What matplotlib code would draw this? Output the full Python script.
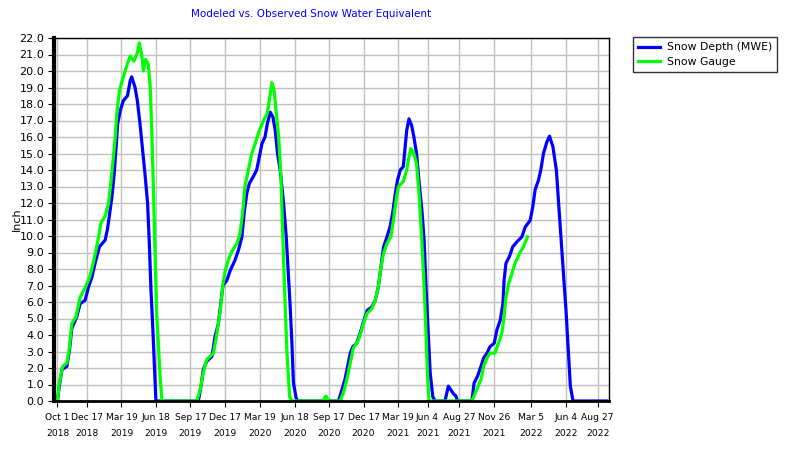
import pandas as pd
import matplotlib.pyplot as plt
from matplotlib import font_manager

# days since Oct 1 2018 and SWE (inch)
base = pd.Timestamp('2018-10-01')

depth_days = [0, 5, 12, 25, 32, 38, 51, 60, 73, 82, 91, 100, 111, 126, 132, 137, 144, 150, 155, 159,
              166, 174, 185, 192, 196, 205, 211, 218, 225, 231, 238, 243, 247, 252, 256, 260,
              372, 379, 385, 394, 408, 416, 425, 431, 437, 447, 456, 469, 478, 487, 493, 500, 507,
              517, 526, 533, 540, 548, 554, 562, 569, 575, 581, 588, 597, 604, 610, 614, 619, 623,
              630, 634,
              742, 751, 759, 766, 773, 780, 790, 799, 808, 818, 830, 839, 847, 854, 861, 870, 878,
              885, 892, 898, 905, 913, 918, 922, 928, 935, 941, 948, 955, 962, 968, 973, 979, 984,
              991, 997,
              1023, 1032, 1045, 1052, 1056,
              1094, 1100, 1109, 1118, 1125, 1134, 1142, 1153, 1160, 1169, 1176, 1179, 1184, 1193,
              1202, 1213, 1226, 1235, 1248, 1255, 1261, 1270, 1276, 1283, 1292, 1299, 1308, 1317,
              1323, 1329, 1336, 1343, 1349, 1354, 1361, 1450]
depth_swe = [0.0, 0.9, 1.9, 2.1, 3.1, 4.4, 5.1, 5.9, 6.1, 6.9, 7.5, 8.4, 9.35, 9.75, 10.4, 11.2, 12.4,
             13.8, 15.4, 16.8, 17.6, 18.2, 18.5, 19.4, 19.65, 19.0, 18.2, 16.8, 15.2, 13.8, 12.0, 9.35,
             6.7, 4.3, 2.1, 0.0,
             0.0, 0.9, 1.9, 2.4, 2.7, 3.9, 4.7, 5.9, 7.0, 7.3, 7.9, 8.55, 9.15, 9.95, 11.4, 12.6, 13.2,
             13.6, 14.0, 14.8, 15.6, 16.0, 16.8, 17.5, 17.2, 16.4, 15.0, 14.0, 12.0, 9.95, 7.5, 5.9,
             3.5, 1.1, 0.2, 0.0,
             0.0, 0.7, 1.3, 2.1, 2.9, 3.3, 3.5, 4.1, 4.8, 5.5, 5.7, 6.1, 6.9, 8.1, 9.35, 9.95, 10.55,
             11.4, 12.6, 13.4, 14.0, 14.2, 15.4, 16.4, 17.1, 16.7, 16.0, 15.0, 13.2, 11.6, 9.75, 6.9,
             4.1, 1.7, 0.25, 0.0,
             0.0, 0.9, 0.45, 0.3, 0.0,
             0.0, 1.1, 1.5, 2.1, 2.6, 2.9, 3.3, 3.5, 4.3, 4.9, 5.9, 7.3, 8.35, 8.75, 9.35, 9.65, 9.95,
             10.55, 10.95, 11.8, 12.8, 13.4, 14.0, 15.0, 15.7, 16.05, 15.4, 14.0, 12.0, 9.95, 7.75,
             5.3, 2.9, 0.9, 0.0, 0.0]

gauge_days = [0, 5, 14, 25, 32, 38, 49, 60, 73, 85, 95, 106, 115, 126, 135, 141, 146, 152, 157, 164,
              174, 185, 192, 202, 211, 216, 223, 227, 233, 240, 245, 249, 254, 258, 262, 267, 271, 276,
              368, 377, 385, 394, 412, 421, 430, 437, 443, 451, 460, 474, 482, 489, 495, 504, 513,
              522, 533, 544, 554, 560, 566, 572, 577, 584, 590, 595, 601, 606, 613, 619,
              700, 709, 716,
              746, 755, 764, 773, 781, 795, 808, 817, 830, 839, 847, 854, 861, 870, 880, 887, 894,
              900, 913, 922, 928, 933, 941, 948, 955, 962, 968, 973, 977, 981,
              1094, 1107, 1118, 1125, 1134, 1142, 1155, 1164, 1173, 1179, 1184, 1191, 1200, 1208,
              1220, 1230, 1241]
gauge_swe = [0.0, 1.1, 2.1, 2.3, 3.3, 4.7, 5.1, 6.3, 6.85, 7.5, 8.4, 9.6, 10.8, 11.2, 12.0, 13.2, 14.4,
             15.8, 17.45, 18.85, 19.65, 20.45, 20.9, 20.6, 21.1, 21.7, 20.9, 20.0, 20.7, 20.4, 19.05,
             16.4, 12.4, 8.75, 5.3, 3.3, 1.5, 0.0,
             0.0, 0.7, 1.7, 2.5, 2.9, 4.1, 5.5, 7.1, 7.9, 8.55, 9.05, 9.55, 10.15, 11.4, 13.0, 14.0,
             15.0, 15.6, 16.4, 17.0, 17.45, 18.3, 19.3, 18.85, 17.6, 16.0, 13.6, 9.95, 5.9, 2.9, 0.25,
             0.0,
             0.0, 0.3, 0.0,
             0.0, 0.5, 1.3, 2.3, 3.2, 3.7, 4.7, 5.3, 5.6, 6.1, 6.9, 8.1, 8.95, 9.55, 9.95, 10.95, 12.2,
             13.0, 13.3, 14.0, 14.8, 15.3, 15.0, 14.4, 12.4, 9.75, 6.9, 4.1, 1.5, 0.0,
             0.0, 0.7, 1.3, 2.1, 2.6, 2.9, 2.9, 3.5, 4.1, 5.1, 6.3, 7.1, 7.75, 8.35, 8.95, 9.35, 9.95]

tick_dates = ['2018-10-01', '2018-12-17', '2019-03-19', '2019-06-18', '2019-09-17', '2019-12-17',
              '2020-03-19', '2020-06-18', '2020-09-17', '2020-12-17', '2021-03-19', '2021-06-04',
              '2021-08-27', '2021-11-26', '2022-03-05', '2022-06-04', '2022-08-27']
tick_labels = ['Oct 1\n2018', 'Dec 17\n2018', 'Mar 19\n2019', 'Jun 18\n2019', 'Sep 17\n2019',
               'Dec 17\n2019', 'Mar 19\n2020', 'Jun 18\n2020', 'Sep 17\n2020', 'Dec 17\n2020',
               'Mar 19\n2021', 'Jun 4\n2021', 'Aug 27\n2021', 'Nov 26\n2021', 'Mar 5\n2022',
               'Jun 4\n2022', 'Aug 27\n2022']

depth_dates = base + pd.to_timedelta(depth_days, unit='D')
gauge_dates = base + pd.to_timedelta(gauge_days, unit='D')

# narrow face for the crowded date labels, if it is there
names = {f.name for f in font_manager.fontManager.ttflist}
if 'Liberation Sans Narrow' in names:
    tick_font, tick_size = 'Liberation Sans Narrow', 8.2
else:
    tick_font, tick_size = 'DejaVu Sans', 6.6

plt.rcParams['font.family'] = ['DejaVu Sans']
fig = plt.figure(figsize=(8, 4.5), dpi=100)
ax = fig.add_axes([54/800, 1 - 401/450, (609 - 54)/800, (401 - 38)/450])

ax.plot(depth_dates, depth_swe, color='#0000ff', lw=2.3, label='Snow Depth (MWE)')
ax.plot(gauge_dates, gauge_swe, color='#00ff00', lw=2.3, label='Snow Gauge')

ax.set_ylim(0, 22)
ax.set_yticks(range(0, 23))
ax.set_yticklabels([f'{v:.1f}' for v in range(0, 23)], fontsize=8)
ax.set_xlim(base - pd.Timedelta(days=9), base + pd.Timedelta(days=1456))
ax.set_xticks(pd.to_datetime(tick_dates))
ax.set_xticklabels(tick_labels, fontsize=tick_size, family=tick_font, linespacing=1.9)
ax.tick_params(axis='both', length=4, width=0.8, color='black', pad=3)
ax.tick_params(axis='x', pad=5)
ax.grid(True, color='#c0c0c0', lw=1)
ax.set_axisbelow(True)
for side in ['top', 'right']:
    ax.spines[side].set_linewidth(1)
ax.spines['left'].set_linewidth(3)
ax.spines['bottom'].set_linewidth(2)
ax.set_ylabel('Inch', fontsize=8)
ax.yaxis.set_label_coords(-0.058, 0.5)

fig.text(311/800, 1 - 14/450, 'Modeled vs. Observed Snow Water Equivalent', color='#0000ff',
         fontsize=7.5, ha='center', va='center')

leg = fig.legend(loc='upper left', bbox_to_anchor=(633/800, 1 - 37/450), fontsize=7.8,
                 frameon=True, fancybox=False, edgecolor='black', handlelength=2.0,
                 borderpad=0.5, labelspacing=0.4, handletextpad=0.6, borderaxespad=0)
leg.get_frame().set_linewidth(1)

fig.savefig('out.png', dpi=100)
